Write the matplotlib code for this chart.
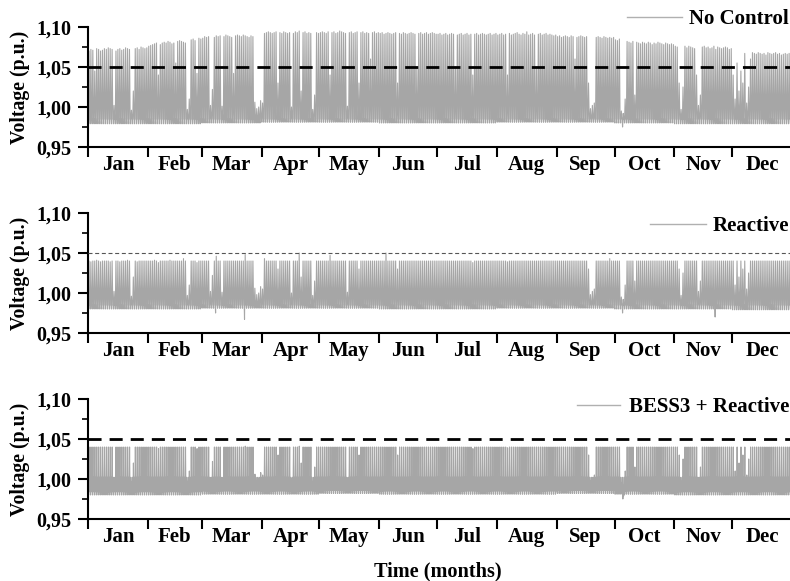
import numpy as np
import matplotlib
matplotlib.use("Agg")
import matplotlib.pyplot as plt
from matplotlib.ticker import FixedLocator, FuncFormatter, NullFormatter

plt.rcParams["font.family"] = ["Liberation Serif", "DejaVu Serif"]
plt.rcParams["font.weight"] = "bold"

months = ["Jan", "Feb", "Mar", "Apr", "May", "Jun",
          "Jul", "Aug", "Sep", "Oct", "Nov", "Dec"]
month_days = [31, 28, 31, 30, 31, 30, 31, 31, 30, 31, 30, 31]
series_names = ["No Control", "Reactive", "BESS3 + Reactive"]

# Daily peak voltage, in thousandths of p.u. above 1.000 (one row per month)
peak_no_control = [
    70, 72, 71, 45, 73, 72, 70, 71, 73, 72, 74, 73, 72, 2, 70, 72, 73, 71, 72, 74, 73, 72, -4, 20, 73, 74, 72, 75, 74, 73, 74,
    76, 77, 78, 79, 80, 40, 78, 80, 81, 80, 82, 81, 79, 80, 55, 82, 83, 82, 81, 80, -3, 10, 84, 85, 83, 42, 86, 85,
    86, 88, 87, 88, 2, 22, 87, 89, 88, 89, 1, 88, 90, 89, 88, 87, 42, 89, 90, 89, 88, 90, 89, 88, 87, 89, 88, 6, -2, 0, 8,
    5, 92, 93, 94, 93, 92, 93, 94, 30, 93, 92, 94, 93, 92, 93, 0, 92, 94, 93, 95, 20, 93, 94, 92, 93, 92, -3, 15, 93, 92,
    93, 94, 93, 92, 94, 40, 93, 94, 92, 93, 95, 94, 93, 92, 1, 93, 94, 92, 93, 94, 30, 93, 94, 92, 93, 92, 60, 93, 94, 92, 93,
    92, 93, 91, 92, 93, 92, 91, 92, 93, 30, 92, 91, 93, 92, 91, 92, 93, 92, 91, 50, 92, 93, 91, 92, 93, 91, 92, 93, 92, 91,
    91, 92, 90, 91, 92, 90, 91, 92, 91, 50, 90, 91, 92, 90, 91, 92, 90, 91, 40, 91, 92, 90, 91, 92, 91, 90, 91, 92, 90, 91, 92,
    90, 91, 92, 90, 91, 40, 92, 90, 91, 92, 93, 91, 90, 92, 91, 94, 90, 91, 92, 90, 50, 91, 92, 90, 91, 92, 90, 91, 90, 89, 90,
    88, 89, 87, 88, 89, 88, 87, 89, 88, 60, 87, 88, 89, 88, 87, 88, 30, -2, 2, 5, 87, 88, 87, 86, 88, 87, 86, 87, 86, 87,
    84, 83, 85, -5, -8, 10, 82, 81, 80, 82, 15, 81, 80, 79, 81, 80, 79, 81, 80, 78, 80, 79, 81, 80, 79, 78, 80, 79, 78, 79, 78,
    76, 75, 30, -3, 25, 76, 74, 76, 75, 74, 73, 40, 2, 15, 75, 76, 74, 75, 73, 74, 76, 72, 75, 74, 73, 74, 75, 74, 72, 73,
    40, 10, 55, 20, 45, 30, 67, 5, 25, 60, 68, 67, 66, 68, 67, 66, 67, 65, 68, 67, 66, 67, 68, 66, 67, 65, 66, 67, 66, 67, 66,
]

peak_reactive = [
    40, 39, 40, 40, 41, 40, 39, 40, 40, 40, 40, 39, 40, 2, 40, 40, 39, 40, 40, 40, 41, 40, -4, 20, 40, 39, 40, 40, 40, 40, 40,
    40, 40, 40, 41, 40, 38, 40, 40, 40, 40, 40, 41, 40, 40, 40, 40, 40, 40, 43, 40, -3, 10, 40, 40, 40, 38, 40, 40,
    40, 40, 40, 40, 2, 22, 40, 46, 40, 40, 1, 40, 40, 40, 40, 40, 40, 40, 40, 40, 40, 40, 48, 40, 40, 40, 40, 6, -2, 0, 8,
    5, 43, 40, 40, 40, 40, 40, 40, 30, 40, 40, 40, 40, 40, 40, 0, 40, 40, 40, 50, 20, 40, 40, 40, 40, 40, -3, 15, 40, 40,
    40, 40, 40, 40, 40, 47, 40, 40, 40, 40, 40, 40, 40, 40, 1, 40, 40, 40, 40, 40, 30, 40, 40, 40, 40, 40, 40, 40, 40, 40, 40,
    40, 40, 40, 50, 40, 40, 40, 40, 40, 30, 40, 40, 40, 40, 40, 40, 40, 40, 40, 40, 40, 40, 40, 40, 40, 40, 40, 40, 40, 40,
    40, 40, 40, 40, 40, 40, 40, 40, 40, 40, 40, 40, 40, 40, 40, 40, 40, 40, 38, 40, 40, 40, 40, 40, 40, 40, 40, 40, 40, 40, 40,
    40, 40, 40, 40, 40, 39, 40, 40, 40, 40, 40, 40, 40, 40, 40, 40, 40, 40, 40, 40, 40, 40, 40, 40, 40, 40, 40, 40, 40, 40, 40,
    40, 40, 40, 40, 40, 40, 40, 40, 40, 40, 40, 40, 40, 40, 40, 40, 30, -2, 2, 5, 40, 40, 40, 40, 40, 40, 40, 43, 40, 40,
    40, 40, 40, -5, -8, 10, 40, 40, 40, 40, 15, 40, 40, 40, 40, 40, 40, 40, 40, 40, 40, 40, 40, 40, 40, 40, 40, 40, 40, 40, 40,
    40, 40, 30, -3, 25, 40, 40, 40, 40, 40, 40, 40, 2, 15, 40, 40, 40, 40, 40, 40, 40, 40, 40, 40, 40, 40, 40, 40, 40, 40,
    40, 10, 40, 20, 40, 30, 40, 5, 25, 40, 40, 40, 40, 40, 40, 40, 40, 40, 40, 40, 40, 40, 40, 40, 40, 40, 40, 40, 40, 40, 40,
]

peak_bess3 = [
    40, 40, 40, 40, 40, 40, 40, 40, 40, 40, 40, 40, 40, 2, 40, 40, 40, 40, 40, 40, 40, 40, -4, 20, 40, 40, 40, 40, 40, 40, 40,
    40, 40, 40, 40, 40, 38, 40, 40, 40, 40, 40, 40, 40, 40, 40, 40, 40, 40, 40, 40, -3, 10, 40, 40, 40, 38, 40, 40,
    40, 40, 40, 40, 2, 22, 40, 40, 40, 40, 1, 40, 40, 40, 40, 40, 40, 40, 40, 40, 40, 40, 41, 40, 40, 40, 40, 6, -2, 0, 8,
    5, 40, 40, 40, 40, 40, 40, 40, 30, 40, 40, 40, 40, 40, 40, 0, 40, 40, 40, 41, 20, 40, 40, 40, 40, 40, -3, 15, 40, 40,
    40, 40, 40, 40, 40, 40, 40, 40, 40, 40, 40, 40, 40, 40, 1, 40, 40, 40, 40, 40, 30, 40, 40, 40, 40, 40, 40, 40, 40, 40, 40,
    40, 40, 40, 40, 40, 40, 40, 40, 40, 30, 40, 40, 40, 40, 40, 40, 40, 40, 40, 40, 40, 40, 40, 40, 40, 40, 40, 40, 40, 40,
    40, 40, 40, 40, 40, 40, 40, 40, 40, 40, 40, 40, 40, 40, 40, 40, 40, 40, 38, 40, 40, 40, 40, 40, 40, 40, 40, 40, 40, 40, 40,
    40, 40, 40, 40, 40, 39, 40, 40, 40, 40, 40, 40, 40, 40, 40, 40, 40, 40, 40, 40, 40, 40, 40, 40, 40, 40, 40, 40, 40, 40, 40,
    40, 40, 40, 40, 40, 40, 40, 40, 40, 40, 40, 40, 40, 40, 40, 40, 30, -2, 2, 5, 40, 40, 40, 40, 40, 40, 40, 40, 40, 40,
    40, 40, 40, -5, -8, 10, 40, 40, 40, 40, 15, 40, 40, 40, 40, 40, 40, 40, 40, 40, 40, 40, 40, 40, 40, 40, 40, 40, 40, 40, 40,
    40, 40, 30, -3, 25, 40, 40, 40, 40, 40, 40, 40, 2, 15, 40, 40, 40, 40, 40, 40, 40, 40, 40, 40, 40, 40, 40, 40, 40, 40,
    40, 10, 40, 20, 40, 30, 40, 5, 25, 40, 40, 40, 40, 40, 40, 40, 40, 40, 40, 40, 40, 40, 40, 40, 40, 40, 40, 40, 40, 40, 40,
]

# Monthly typical daily minimum (thousandths of p.u. above 1.000)
min_no_control = [-21, -21, -20, -19, -19, -20, -20, -19, -19, -20, -21, -21]
min_reactive = [-20, -20, -19, -19, -19, -20, -20, -19, -19, -20, -20, -21]
min_bess3 = [-20, -20, -19, -19, -18, -19, -19, -19, -18, -19, -20, -20]

# Individual days with a deeper minimum: (day of year, thousandths above 1.000)
dips_no_control = [(277, -25)]
dips_reactive = [(66, -25), (81, -33), (277, -25), (325, -30)]
dips_bess3 = [(277, -25)]

# Night-time plateau of each case (p.u.)
night_level = [0.985, 0.985, 1.002]

limit_voltage = 1.05


def daily_minima(monthly, dips):
    mins = np.repeat(np.array(monthly, float), month_days)
    for day, val in dips:
        mins[day] = val
    return 1.0 + mins / 1000.0


def daily_trace(peaks, minima, night, plateau):
    peaks = 1.0 + np.asarray(peaks, float) / 1000.0
    xs, ys = [], []
    for d, (pk, lo) in enumerate(zip(peaks, minima)):
        if plateau:
            xs += [d, d + 0.2, d + 0.3, d + 0.55, d + 0.75, d + 0.9]
            ys += [night, night, lo, pk, lo + 0.004, night]
        else:
            xs += [d, d + 0.15, d + 0.5, d + 0.85]
            ys += [night, lo, pk, night]
    return np.array(xs), np.array(ys)


peaks_all = [peak_no_control, peak_reactive, peak_bess3]
mins_all = [daily_minima(min_no_control, dips_no_control),
            daily_minima(min_reactive, dips_reactive),
            daily_minima(min_bess3, dips_bess3)]

W, H = 790, 581
fig = plt.figure(figsize=(W / 100, H / 100), dpi=100)
fig.patch.set_facecolor("white")

ax_left = 88 / W
ax_width = 704 / W
ax_height = 120 / H
panel_tops = [27, 213, 399]

limit_styles = [
    dict(color="black", lw=2.0, linestyle=(0, (4.7, 2.9))),
    dict(color="#555555", lw=0.8, linestyle=(0, (3.6, 2.4))),
    dict(color="black", lw=2.0, linestyle=(0, (4.7, 2.9))),
]
legend_y = [19, 226, 407]
legend_handle = [2.64, 2.7, 2.07]
legend_pad = [0.34, 0.3, 0.43]

month_starts = np.concatenate([[0], np.cumsum(month_days)])
month_mids = (month_starts[:-1] + month_starts[1:]) / 2.0
gray = "#a6a6a6"

for i in range(3):
    top = panel_tops[i]
    ax = fig.add_axes([ax_left, 1 - (top + 120) / H, ax_width, ax_height])
    xs, ys = daily_trace(peaks_all[i], mins_all[i], night_level[i], plateau=(i == 2))
    line, = ax.plot(xs, ys, color=gray, lw=0.8, zorder=2)
    ax.axhline(limit_voltage, zorder=3, **limit_styles[i])

    ax.set_xlim(0, 365)
    ax.set_ylim(0.95, 1.10)

    for side in ("top", "right"):
        ax.spines[side].set_visible(False)
    for side in ("left", "bottom"):
        ax.spines[side].set_linewidth(1.5)

    ax.xaxis.set_major_locator(FixedLocator(month_starts))
    ax.xaxis.set_major_formatter(NullFormatter())
    ax.xaxis.set_minor_locator(FixedLocator(month_mids))
    ax.xaxis.set_minor_formatter(FuncFormatter(lambda v, p: months[p] if p < 12 else ""))
    ax.tick_params(axis="x", which="major", direction="out", length=7, width=1.5)
    ax.tick_params(axis="x", which="minor", length=0, pad=6, labelsize=15)

    ax.yaxis.set_major_locator(FixedLocator([0.95, 1.00, 1.05, 1.10]))
    ax.yaxis.set_minor_locator(FixedLocator([0.975, 1.025, 1.075]))
    ax.yaxis.set_major_formatter(FuncFormatter(lambda v, p: f"{v:.2f}".replace(".", ",")))
    ax.tick_params(axis="y", which="major", direction="out", length=7, width=1.5,
                   pad=5, labelsize=14.5)
    ax.tick_params(axis="y", which="minor", direction="out", length=4, width=1.2)
    for lab in ax.get_xticklabels(minor=True) + ax.get_yticklabels():
        lab.set_fontweight("bold")

    fig.text(20 / W, 1 - (top + 60) / H, "Voltage (p.u.)", rotation=90,
             ha="center", va="center", fontsize=14.2, fontweight="bold")

    leg = ax.legend([line], [series_names[i]], loc="center right",
                    bbox_to_anchor=(789 / W, 1 - legend_y[i] / H),
                    bbox_transform=fig.transFigure, frameon=False,
                    prop=dict(size=15, weight="bold"),
                    handlelength=legend_handle[i], handletextpad=legend_pad[i],
                    borderpad=0, borderaxespad=0)
    for h in leg.get_lines():
        h.set_linewidth(1.0)
        h.set_color("#b0b0b0")

fig.text(438 / W, 1 - 571 / H, "Time (months)", ha="center", va="center",
         fontsize=14.6, fontweight="bold")

fig.savefig("out.png", dpi=100, facecolor="white")
